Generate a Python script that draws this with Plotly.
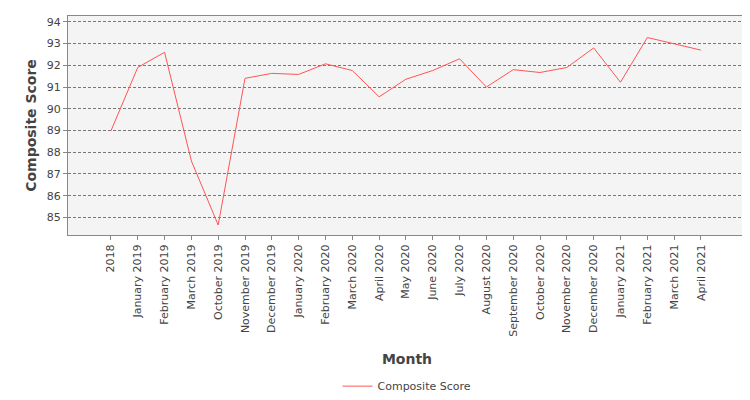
import plotly.graph_objects as go

months = ["2018","January 2019","February 2019","March 2019","October 2019","November 2019",
          "December 2019","January 2020","February 2020","March 2020","April 2020","May 2020",
          "June 2020","July 2020","August 2020","September 2020","October 2020","November 2020",
          "December 2020","January 2021","February 2021","March 2021","April 2021"]
scores = [88.98,91.9,92.6,87.6,84.65,91.4,91.63,91.58,92.07,91.76,90.55,91.36,
          91.76,92.3,91.0,91.8,91.67,91.9,92.8,91.22,93.28,93.0,92.7]
yticks = list(range(85, 95))

fig = go.Figure(go.Scatter(x=list(range(len(months))), y=scores, mode="lines",
                           line=dict(color="#ff5555", width=1), name="Composite Score"))
fig.update_layout(
    width=750, height=400, margin=dict(l=60, r=12, t=8, b=167),
    paper_bgcolor="white", plot_bgcolor="#f4f4f4",
    font=dict(family="DejaVu Sans", size=11, color="#444"),
    showlegend=True,
    legend=dict(orientation="h", x=0.5, xanchor="center", y=-0.69, yanchor="middle",
                font=dict(size=11, color="#444")),
)
fig.update_xaxes(tickmode="array", tickvals=list(range(len(months))), ticktext=months,
                 tickangle=-90, range=[-1.6, len(months) - 1 + 1.68], showgrid=False,
                 showline=True, linecolor="#888", mirror=True, ticks="outside", ticklen=4,
                 tickcolor="#888", zeroline=False, automargin=False,
                 title=dict(text="<b>Month</b>", font=dict(size=14, color="#444"), standoff=18))
fig.update_yaxes(tickvals=yticks, range=[84.19, 94.27], showgrid=True, gridcolor="#777",
                 griddash="3px,2px", gridwidth=0.5, showline=True, linecolor="#888", mirror=True,
                 ticks="outside", ticklen=4, tickcolor="#888", zeroline=False, automargin=False,
                 title=dict(text="<b>Composite Score</b>", font=dict(size=14, color="#444"), standoff=6))
fig.write_html("out.html")
